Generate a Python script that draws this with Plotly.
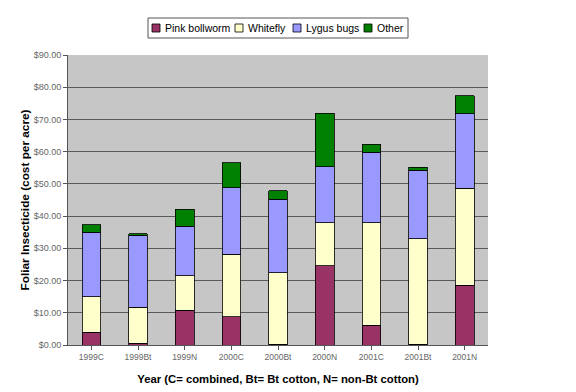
import plotly.graph_objects as go

categories = ["1999C", "1999Bt", "1999N", "2000C", "2000Bt", "2000N", "2001C", "2001Bt", "2001N"]
pink_bollworm = [4.0, 0.5, 10.8, 8.8, 0.2, 24.6, 6.1, 0.2, 18.6]
whitefly = [11.0, 11.2, 10.7, 19.4, 22.3, 13.4, 31.9, 32.8, 30.0]
lygus_bugs = [20.0, 22.3, 15.3, 20.6, 22.8, 17.3, 21.8, 21.3, 23.2]
other = [2.3, 0.6, 5.4, 7.7, 2.5, 16.7, 2.5, 0.9, 5.6]
y_ticks = [0, 10, 20, 30, 40, 50, 60, 70, 80, 90]
y_tick_labels = ["$%.2f" % v for v in y_ticks]

series_names = ["Pink bollworm", "Whitefly", "Lygus bugs", "Other"]
series_values = [pink_bollworm, whitefly, lygus_bugs, other]
series_colors = ["#993366", "#FFFFCC", "#9999FF", "#008000"]

# the page body has an 8px default margin, so the figure is drawn 8px in
OFF = 8
W, H = 576 - OFF, 392 - OFF
L, R, T, B = 68 - OFF, 88, 55 - OFF, 47
PW, PH = W - L - R, H - T - B


def px2x(px):
    return (px - OFF - L) / PW


def px2y(py):
    return (H - B - (py - OFF)) / PH


fig = go.Figure()
for name, vals, color in zip(series_names, series_values, series_colors):
    fig.add_trace(go.Bar(
        x=categories, y=vals, name=name,
        marker=dict(color=color, line=dict(color="#000000", width=0.8)),
        showlegend=False,
    ))

# custom legend (compact, like the original)
legend_box = (148, 18, 408, 38)
legend_sq_x = [152, 235, 293, 364]
legend_txt_x = [163, 246, 304, 375]
shapes = [dict(type="rect", xref="paper", yref="paper",
               x0=px2x(legend_box[0]), x1=px2x(legend_box[2]),
               y0=px2y(legend_box[3]), y1=px2y(legend_box[1]),
               line=dict(color="#555555", width=1), fillcolor="#FFFFFF", layer="above")]
annotations = []
for name, color, sx, tx in zip(series_names, series_colors, legend_sq_x, legend_txt_x):
    shapes.append(dict(type="rect", xref="paper", yref="paper",
                       x0=px2x(sx), x1=px2x(sx + 8), y0=px2y(32), y1=px2y(24),
                       line=dict(color="#000000", width=0.8), fillcolor=color, layer="above"))
    annotations.append(dict(text=name, xref="paper", yref="paper",
                            x=px2x(tx), y=px2y(28), xanchor="left", yanchor="middle",
                            showarrow=False, font=dict(size=10.5, color="#000000")))

fig.update_layout(
    barmode="stack",
    bargap=0.6,
    width=W, height=H,
    margin=dict(l=L, r=R, t=T, b=B),
    paper_bgcolor="#FFFFFF",
    plot_bgcolor="#C6C6C6",
    font=dict(family="Liberation Sans, Arial, sans-serif", size=9, color="#555555"),
    showlegend=False,
    shapes=shapes,
    annotations=annotations,
)
fig.update_xaxes(
    automargin=False,
    showgrid=False, showline=True, linecolor="#555555", linewidth=1,
    ticks="outside", ticklen=4, tickcolor="#555555",
    tickfont=dict(size=8.5, color="#666666"),
    title=dict(text="<b>Year (C= combined, Bt= Bt cotton, N= non-Bt cotton)</b>",
               font=dict(size=11.3, color="#000000"), standoff=13),
)
fig.update_yaxes(
    automargin=False,
    range=[0, 90], tickvals=y_ticks, ticktext=y_tick_labels,
    showgrid=True, gridcolor="#5A5A5A", gridwidth=1,
    showline=True, linecolor="#555555", linewidth=1,
    ticks="outside", ticklen=4, tickcolor="#555555",
    tickfont=dict(size=9, color="#666666"),
    title=dict(text="<b>Foliar Insecticide (cost per acre)</b>",
               font=dict(size=11.8, color="#000000"), standoff=1),
    zeroline=False,
)

fig.write_html("out.html")
